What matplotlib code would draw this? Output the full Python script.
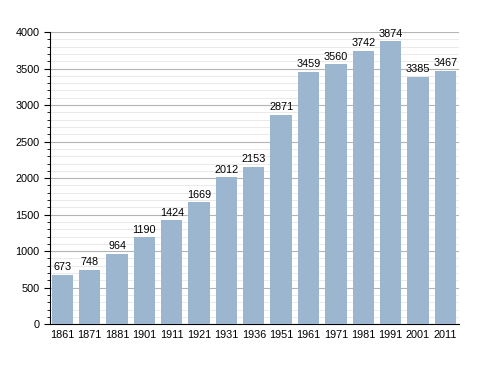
import matplotlib
matplotlib.use('Agg')
import matplotlib.pyplot as plt
from matplotlib.ticker import MultipleLocator

plt.rcParams['font.family'] = ['Liberation Sans', 'DejaVu Sans']

years = ['1861', '1871', '1881', '1901', '1911', '1921', '1931', '1936',
         '1951', '1961', '1971', '1981', '1991', '2001', '2011']
population = [673, 748, 964, 1190, 1424, 1669, 2012, 2153,
              2871, 3459, 3560, 3742, 3874, 3385, 3467]

fig = plt.figure(figsize=(4.88, 3.73), dpi=100)
ax = fig.add_axes([0.1025, 0.131, 0.838, 0.783])

x = range(len(years))
ax.bar(x, population, width=0.78, color='#9db6d0', zorder=3)
for xi, v in zip(x, population):
    ax.text(xi, v + 35, str(v), ha='center', va='bottom', fontsize=7.8,
            zorder=4)

ax.set_xlim(-0.45, len(years) - 0.5)
ax.set_ylim(0, 4000)
ax.set_xticks(list(x))
ax.set_xticklabels(years, fontsize=7.8)
ax.yaxis.set_major_locator(MultipleLocator(500))
ax.yaxis.set_minor_locator(MultipleLocator(100))
ax.tick_params(axis='y', labelsize=7.8, length=4, width=0.8)
ax.tick_params(axis='y', which='minor', length=2.5, width=0.6)
ax.tick_params(axis='x', length=0, pad=4)
ax.grid(axis='y', which='major', color='#b4b4b4', linewidth=0.8, zorder=0)
ax.grid(axis='y', which='minor', color='#e6e6e6', linewidth=0.6, zorder=0)
for s in ['top', 'right']:
    ax.spines[s].set_visible(False)

plt.savefig('out.png', dpi=100)
